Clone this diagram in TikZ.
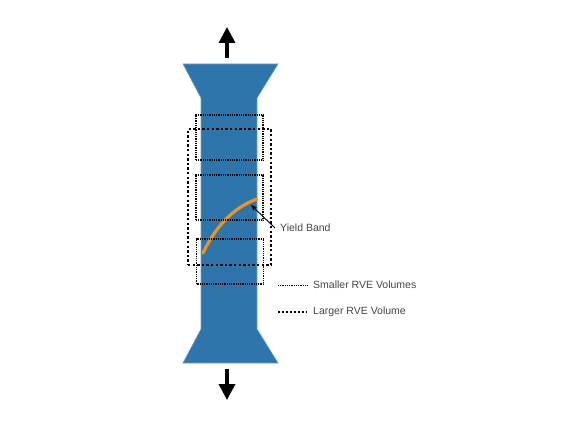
\documentclass[tikz,border=0pt]{standalone}
\usepackage{fontspec}
\setmainfont{Liberation Sans}
\usetikzlibrary{arrows.meta}
\definecolor{specblue}{RGB}{46,117,172}
\definecolor{bandorange}{RGB}{240,146,30}
\definecolor{labelgray}{RGB}{70,70,70}
\tikzset{
  spec/.style={fill=specblue, draw=specblue!70!white, line width=0.6pt},
  smallrve/.style={draw=black, line width=1.1pt, dash pattern=on 0.9pt off 0.9pt},
  largerve/.style={draw=black, line width=1.3pt, dash pattern=on 2.4pt off 2.2pt},
  loadarrow/.style={-{Triangle[length=16pt,width=16pt]}, line width=3.5pt},
  lbl/.style={text=labelgray, font=\fontsize{10.5}{12}\selectfont, anchor=west, inner sep=0pt},
}
\begin{document}
\begin{tikzpicture}[x=1pt,y=-1pt]
\useasboundingbox (0,0) rectangle (561,433);
% specimen
\path[spec] (183,64) -- (278,64) -- (257,98) -- (257,329) -- (278,363) -- (183,363) -- (201,329) -- (201,98) -- cycle;
% loading arrows
\coordinate (atop0) at (227,58);
\coordinate (atop1) at (227,27);
\coordinate (abot0) at (227,369);
\coordinate (abot1) at (227,400);
\draw[loadarrow] (atop0) -- (atop1);
\draw[loadarrow] (abot0) -- (abot1);
% yield band
\coordinate (yb0) at (203,253);
\coordinate (yb1) at (257,199);
\draw[bandorange, line width=3.2pt, line cap=round] (yb0) .. controls (215,228) and (232,208) .. (yb1);
% RVE boxes
\node[smallrve, minimum width=67pt, minimum height=45pt, inner sep=0pt] (s1) at (229.5,137.5) {};
\node[smallrve, minimum width=67pt, minimum height=45pt, inner sep=0pt] (s2) at (229.5,197.5) {};
\node[smallrve, minimum width=67pt, minimum height=45pt, inner sep=0pt] (s3) at (230,261.5) {};
\node[largerve, minimum width=83pt, minimum height=136pt, inner sep=0pt] (L) at (229.5,197) {};
% yield band label
\node[lbl] (yl) at (280,228) {Yield Band};
\coordinate (yt) at (251,205);
\draw[-{Stealth[length=6pt,width=5pt]}, line width=0.9pt] (yl.west) ++(-5,0) -- (yt);
% legend
\coordinate (ls0) at (278,285);
\coordinate (ls1) at (307,285);
\coordinate (ll0) at (278,312);
\coordinate (ll1) at (307,312);
\draw[smallrve, line width=0.9pt] (ls0) -- (ls1);
\draw[largerve, line width=1.1pt, dash pattern=on 2pt off 2pt] (ll0) -- (ll1);
\node[lbl] (t1) at (313,285) {Smaller RVE Volumes};
\node[lbl] (t2) at (313,312) {Larger RVE Volume};
\end{tikzpicture}
\end{document}
